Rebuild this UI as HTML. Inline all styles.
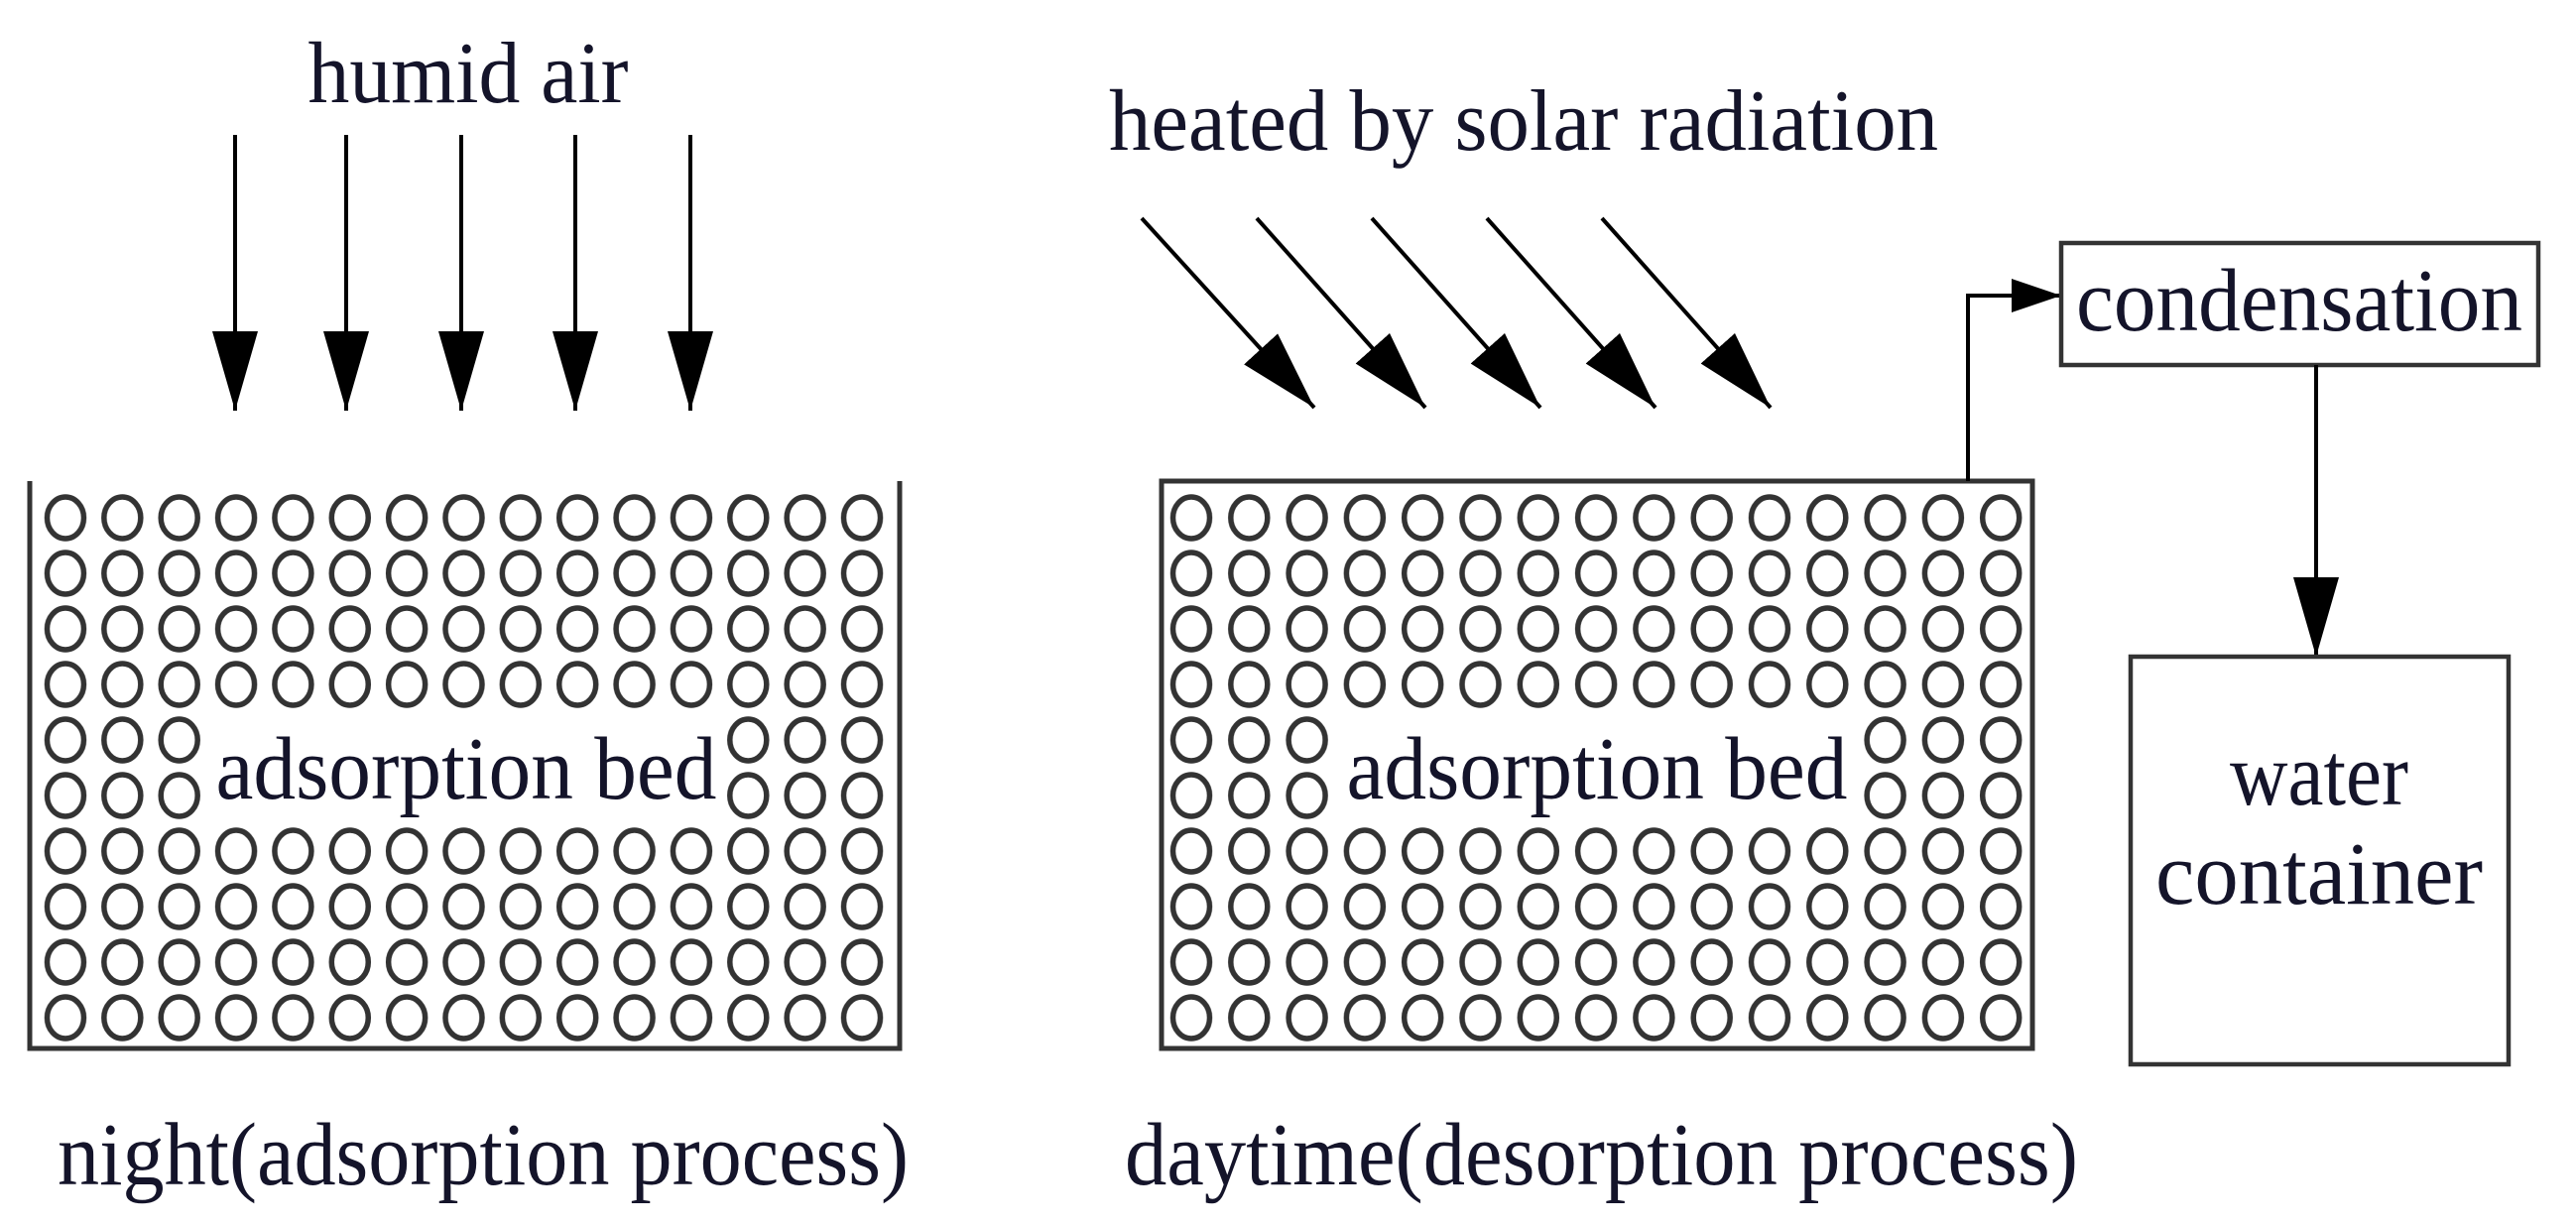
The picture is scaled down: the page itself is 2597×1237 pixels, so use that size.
<!DOCTYPE html>
<html><head><meta charset="utf-8"><style>html,body{margin:0;padding:0;background:#fff}svg{display:block}text{font-family:"Liberation Serif",serif;fill:#14142a}</style></head>
<body>
<svg width="2597" height="1237" viewBox="0 0 2597 1237" xmlns="http://www.w3.org/2000/svg">
<defs>
<pattern id="pl" patternUnits="userSpaceOnUse" x="37.3" y="494" width="57.36" height="56">
<ellipse cx="28.68" cy="28" rx="18.5" ry="21" fill="none" stroke="#333" stroke-width="5.5"/>
</pattern>
<pattern id="pr" patternUnits="userSpaceOnUse" x="1171.85" y="494" width="58.3" height="56">
<ellipse cx="29.15" cy="28" rx="18.5" ry="21" fill="none" stroke="#333" stroke-width="5.5"/>
</pattern>
<marker id="ah" markerUnits="userSpaceOnUse" markerWidth="90" markerHeight="50" refX="80" refY="23" orient="auto">
<path d="M0,0 L80,23 L0,46 Z" fill="#000"/>
</marker>
<marker id="ahs" markerUnits="userSpaceOnUse" markerWidth="60" markerHeight="40" refX="50" refY="17" orient="auto">
<path d="M0,0 L50,17 L0,34 Z" fill="#000"/>
</marker>
</defs>

<text x="472" y="103" font-size="88" text-anchor="middle" textLength="323" lengthAdjust="spacingAndGlyphs">humid air</text>
<g stroke="#000" stroke-width="4" marker-end="url(#ah)">
<line x1="237" y1="136" x2="237" y2="414"/>
<line x1="349" y1="136" x2="349" y2="414"/>
<line x1="465" y1="136" x2="465" y2="414"/>
<line x1="580" y1="136" x2="580" y2="414"/>
<line x1="696" y1="136" x2="696" y2="414"/>
</g>

<path d="M30,485 L30,1057 L907,1057 L907,485" fill="none" stroke="#333" stroke-width="5"/>
<rect x="37.3" y="494" width="860.4" height="224" fill="url(#pl)"/>
<rect x="37.3" y="718" width="172.1" height="112" fill="url(#pl)"/>
<rect x="725.6" y="718" width="172.1" height="112" fill="url(#pl)"/>
<rect x="37.3" y="830" width="860.4" height="224" fill="url(#pl)"/>
<text x="470" y="805" font-size="90" text-anchor="middle" textLength="505" lengthAdjust="spacingAndGlyphs">adsorption bed</text>
<text x="58" y="1194" font-size="90" textLength="858" lengthAdjust="spacingAndGlyphs">night(adsorption process)</text>

<text x="1118" y="151" font-size="88" textLength="836" lengthAdjust="spacingAndGlyphs">heated by solar radiation</text>
<g stroke="#000" stroke-width="4" marker-end="url(#ah)">
<line x1="1151" y1="220" x2="1325" y2="411"/>
<line x1="1267" y1="220" x2="1437" y2="411"/>
<line x1="1383" y1="220" x2="1553" y2="411"/>
<line x1="1499" y1="220" x2="1669" y2="411"/>
<line x1="1615" y1="220" x2="1785" y2="411"/>
</g>

<rect x="1171" y="485" width="878" height="572" fill="none" stroke="#333" stroke-width="5"/>
<rect x="1171.85" y="494" width="874.5" height="224" fill="url(#pr)"/>
<rect x="1171.85" y="718" width="174.9" height="112" fill="url(#pr)"/>
<rect x="1871.45" y="718" width="174.9" height="112" fill="url(#pr)"/>
<rect x="1171.85" y="830" width="874.5" height="224" fill="url(#pr)"/>
<text x="1610" y="805" font-size="90" text-anchor="middle" textLength="505" lengthAdjust="spacingAndGlyphs">adsorption bed</text>
<text x="1134" y="1194" font-size="90" textLength="961" lengthAdjust="spacingAndGlyphs">daytime(desorption process)</text>

<path d="M1984,485 L1984,298 L2078,298" fill="none" stroke="#000" stroke-width="4" marker-end="url(#ahs)"/>
<rect x="2078" y="245" width="481" height="123" fill="none" stroke="#333" stroke-width="4.5"/>
<text x="2318" y="333" font-size="90" text-anchor="middle" textLength="450" lengthAdjust="spacingAndGlyphs">condensation</text>
<line x1="2335" y1="368" x2="2335" y2="662" stroke="#000" stroke-width="4" marker-end="url(#ah)"/>
<rect x="2148" y="662" width="381" height="411" fill="none" stroke="#333" stroke-width="4.5"/>
<text x="2338" y="811" font-size="90" text-anchor="middle" textLength="180" lengthAdjust="spacingAndGlyphs">water</text>
<text x="2338" y="911" font-size="90" text-anchor="middle" textLength="330" lengthAdjust="spacingAndGlyphs">container</text>
</svg>
</body></html>
